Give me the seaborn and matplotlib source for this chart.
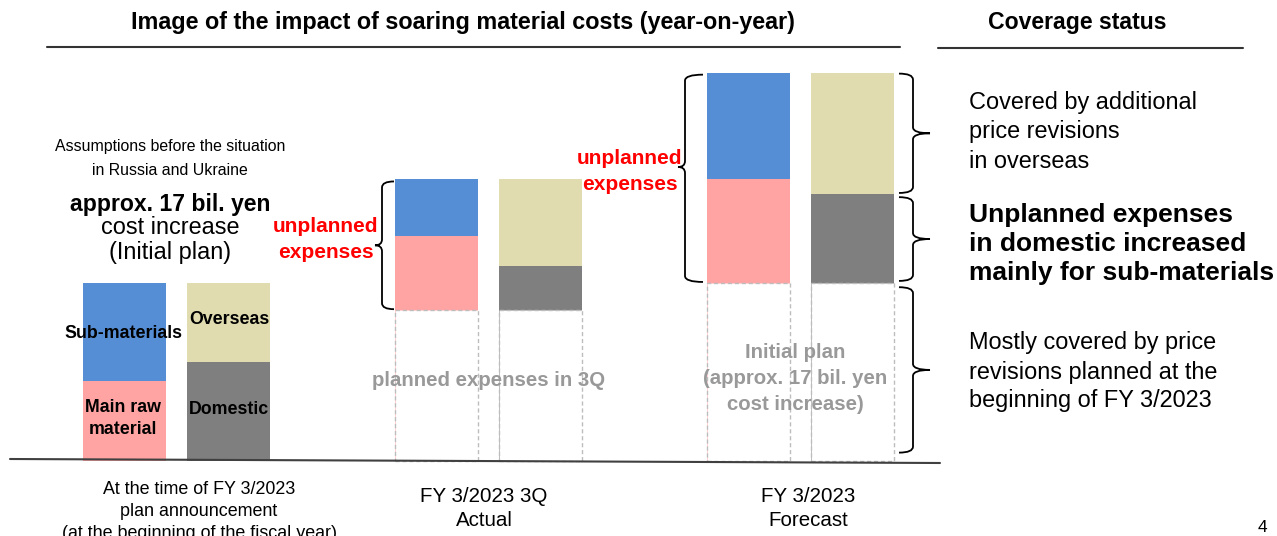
import numpy as np
import pandas as pd
import matplotlib.pyplot as plt
from matplotlib.path import Path
from matplotlib.patches import PathPatch
from matplotlib.lines import Line2D
import seaborn as sns

# ---- data (bil. yen) ----
stages = ["At the time of FY 3/2023 plan announcement", "FY 3/2023 3Q Actual", "FY 3/2023 Forecast"]
planned = [0.0, 14.4, 17.0]        # dashed "already planned" part
main_raw = [7.6, 7.1, 9.9]         # left stack, lower
sub_materials = [9.4, 5.4, 10.2]   # left stack, upper
domestic = [9.5, 4.2, 8.5]         # right stack, lower
overseas = [7.5, 8.3, 11.6]        # right stack, upper

BLUE, PINK, BEIGE, GREY = "#558ED5", "#FFA3A3", "#E0DCB0", "#7F7F7F"

W, H = 1277, 536
PX_X, PX_Y = 104.0, 10.47          # pixels per x unit / per bil. yen
X0, Y0 = 124.5, 461.0              # pixel of x=0, y=0

sns.set_theme(style="white")
plt.rcParams['font.family'] = ['Liberation Sans', 'DejaVu Sans']

fig = plt.figure(figsize=(W / 100, H / 100), dpi=100)
ax = fig.add_axes([0, 0, 1, 1])

# build the long table: left bar at 3*g, right bar at 3*g+1
rows = []
for g in range(len(stages)):
    rows.append(dict(x=3 * g, side="left", base=planned[g], low=main_raw[g], high=sub_materials[g]))
    rows.append(dict(x=3 * g + 1, side="right", base=planned[g], low=domestic[g], high=overseas[g]))
df = pd.DataFrame(rows)
df["top"] = df["base"] + df["low"] + df["high"]
df["mid"] = df["base"] + df["low"]

common = dict(x="x", hue="side", dodge=False, native_scale=True, width=0.8,
              saturation=1, linewidth=0, errorbar=None, legend=False, ax=ax)
sns.barplot(data=df, y="top", palette={"left": BLUE, "right": BEIGE}, **common)
sns.barplot(data=df, y="mid", palette={"left": PINK, "right": GREY}, **common)
dashed = df[df["base"] > 0]
sns.barplot(data=dashed, x="x", y="base", native_scale=True, width=0.8, color="white",
            saturation=1, edgecolor="#bdbdbd", linestyle=(0, (3, 2)), linewidth=1.0,
            errorbar=None, ax=ax)

ax.set_xlim(-X0 / PX_X, (W - X0) / PX_X)
ax.set_ylim(-(H - Y0) / PX_Y, Y0 / PX_Y)
ax.axis("off")


def px(x, y):
    return x / W, 1 - y / H


def brace(x_spine, y1, y2, x_end, x_tip, y_tip=None, r=6):
    # y in data units, x in pixels; drawn in pixel space
    p1 = Y0 - y1 * PX_Y
    p2 = Y0 - y2 * PX_Y
    top, bot = min(p1, p2), max(p1, p2)
    mid = (top + bot) / 2 if y_tip is None else y_tip
    verts = [(x_end, top), (x_spine, top), (x_spine, top + r),
             (x_spine, mid - r), (x_spine, mid), (x_tip, mid),
             (x_spine, mid), (x_spine, mid + r),
             (x_spine, bot - r), (x_spine, bot), (x_end, bot)]
    codes = [Path.MOVETO, Path.CURVE3, Path.CURVE3,
             Path.LINETO, Path.CURVE3, Path.CURVE3,
             Path.CURVE3, Path.CURVE3,
             Path.LINETO, Path.CURVE3, Path.CURVE3]
    verts = [(vx / W, 1 - vy / H) for vx, vy in verts]
    fig.add_artist(PathPatch(Path(verts, codes), fill=False, lw=1.3, color="black",
                             transform=fig.transFigure))


def line(x1, y1, x2, y2, lw=1.5, color="#333333"):
    fig.add_artist(Line2D([x1 / W, x2 / W], [1 - y1 / H, 1 - y2 / H], lw=lw,
                          color=color, transform=fig.transFigure))


def txt(x, y, s, size, bold=False, color="black", ha="center"):
    fig.text(*px(x, y), s, fontsize=size, fontweight="bold" if bold else "normal",
             color=color, ha=ha, va="center")


# baseline and header rules
line(10, 459, 940, 463, lw=1.5, color="#404040")
line(47, 47, 900, 47)
line(938, 48, 1243, 48)

txt(463, 22, "Image of the impact of soaring material costs (year-on-year)", 16.8, bold=True)
txt(1077, 23, "Coverage status", 16.6, bold=True)

# left group annotations
txt(170, 147, "Assumptions before the situation", 11.4)
txt(170, 170, "in Russia and Ukraine", 11.4)
txt(170, 205, "approx. 17 bil. yen", 16.6, bold=True)
txt(170, 228, "cost increase", 16.9)
txt(170, 252, "(Initial plan)", 16.9)

txt(123, 333, "Sub-materials", 12.8, bold=True)
txt(123, 408, "Main raw", 12.8, bold=True)
txt(123, 430, "material", 12.8, bold=True)
txt(229, 320, "Overseas", 12.8, bold=True)
txt(229, 410, "Domestic", 12.8, bold=True)

# unplanned labels
for cx, y1, y2 in [(326, 227, 253), (630, 158, 184)]:
    txt(cx, y1, "unplanned", 15, bold=True, color="#FF0000")
    txt(cx, y2, "expenses", 15, bold=True, color="#FF0000")

txt(489, 381, "planned expenses in 3Q", 14.7, bold=True, color="#999999")
txt(795, 353, "Initial plan", 14.7, bold=True, color="#999999")
txt(795, 379, "(approx. 17 bil. yen", 14.7, bold=True, color="#999999")
txt(795, 404, "cost increase)", 14.7, bold=True, color="#999999")

# braces
brace(382, planned[1] + main_raw[1] + sub_materials[1] - 0.2, planned[1] + 0.1, 394, 375)
brace(685, planned[2] + main_raw[2] + sub_materials[2] - 0.2, planned[2] + 0.1, 703, 678, y_tip=167)
top3 = planned[2] + domestic[2] + overseas[2]
brace(913, top3 - 0.1, planned[2] + domestic[2] + 0.1, 899, 930)
brace(913, planned[2] + domestic[2] - 0.3, planned[2] + 0.2, 899, 930)
brace(913, planned[2] - 0.4, 0.8, 899, 930)

# x labels
txt(199, 490, "At the time of FY 3/2023", 12.9)
txt(199, 511, "plan announcement", 12.9)
txt(199, 533, "(at the beginning of the fiscal year)", 12.9)
txt(484, 497, "FY 3/2023 3Q", 14.8)
txt(484, 521, "Actual", 14.8)
txt(808, 497, "FY 3/2023", 14.8)
txt(808, 521, "Forecast", 14.8)

# coverage status
for y, s in [(103, "Covered by additional"), (132, "price revisions"), (162, "in overseas")]:
    txt(969, y, s, 16.9, ha="left")
for y, s in [(215, "Unplanned expenses"), (244, "in domestic increased"), (273, "mainly for sub-materials")]:
    txt(969, y, s, 19, bold=True, ha="left")
for y, s in [(343, "Mostly covered by price"), (372, "revisions planned at the"), (401, "beginning of FY 3/2023")]:
    txt(969, y, s, 16.9, ha="left")

txt(1262, 527, "4", 12.5)

fig.savefig("out.png", dpi=100)
